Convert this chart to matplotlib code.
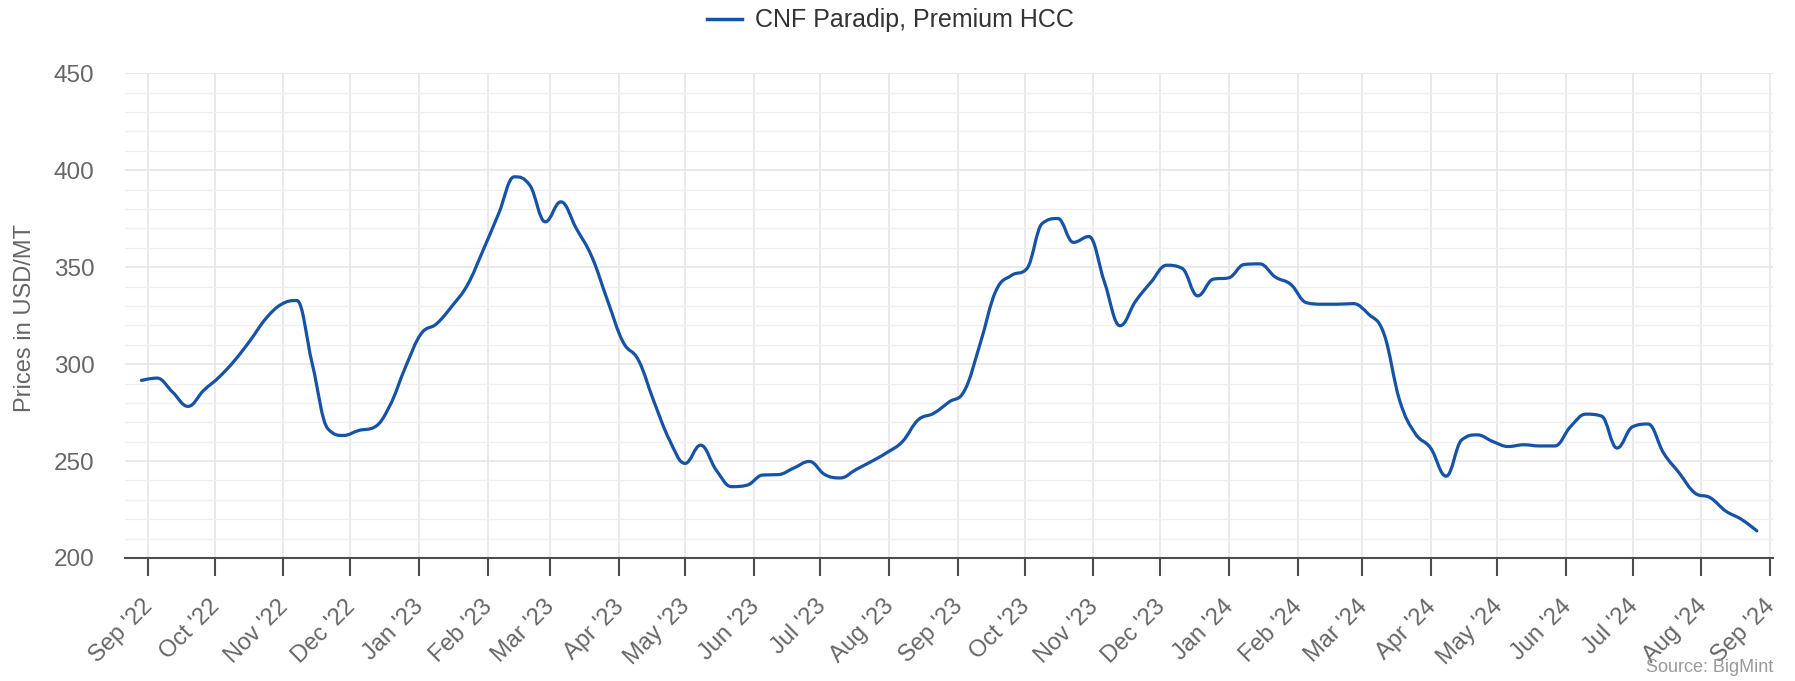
import numpy as np
import pandas as pd
import matplotlib
matplotlib.use("Agg")
import matplotlib.pyplot as plt
import matplotlib.dates as mdates
import matplotlib.transforms as mtransforms
from matplotlib.path import Path
from matplotlib.patches import PathPatch
from matplotlib.lines import Line2D
from matplotlib.ticker import MultipleLocator

plt.rcParams['font.family'] = ['Liberation Sans', 'DejaVu Sans']

# ---------------- data ----------------
series_name = "CNF Paradip, Premium HCC"
start_date = "2022-08-29"          # weekly observations (Mondays)
prices = [
    291.6, 292.8, 285.6, 278.2, 286.4, 293.3, 301.9, 312.2, 323.4, 330.8,
    332.8, 300.0, 266.7, 263.2, 265.8, 267.5, 278.7, 298.5, 315.6, 320.8,
    330.0, 341.0, 358.8, 377.7, 396.6, 392.3, 373.4, 383.7, 369.9, 355.3,
    333.0, 311.5, 302.0, 280.6, 260.8, 248.8, 258.2, 245.4, 236.8, 237.6,
    242.8, 243.0, 246.4, 249.8, 243.0, 241.3, 245.6, 249.8, 254.4, 260.1,
    271.2, 274.6, 280.5, 286.5, 310.6, 337.6, 345.7, 349.2, 372.6, 375.1,
    362.8, 365.8, 342.3, 319.8, 332.4, 342.3, 351.0, 349.4, 335.2, 343.8,
    344.5, 351.4, 351.7, 344.9, 341.1, 331.7, 330.9, 330.9, 331.2, 325.8,
    315.5, 281.4, 264.3, 256.7, 242.2, 260.9, 263.5, 260.1, 257.5, 258.4,
    257.8, 257.8, 267.7, 274.2, 273.2, 256.7, 267.7, 269.1, 254.1, 243.9,
    233.6, 231.1, 224.2, 220.0, 214.0,
]
dates = pd.date_range(start_date, periods=len(prices), freq="7D")
y_label = "Prices in USD/MT"
source_text = "Source: BigMint"
x_range = ("2022-08-21 14:00", "2024-09-02 07:00")
y_range = (200, 450)

LINE_COLOR = "#1652a5"
GRID_MAJOR = "#e6e6e6"
GRID_MINOR = "#f0f0f0"


def spline_path(xs, ys, smoothing=1.5):
    """Highcharts-style spline as cubic Bezier path."""
    xs = np.asarray(xs, float)
    ys = np.asarray(ys, float)
    n = len(xs)
    denom = smoothing + 1
    lcx, lcy = xs.copy(), ys.copy()
    rcx, rcy = xs.copy(), ys.copy()
    for i in range(1, n - 1):
        px, py = xs[i], ys[i]
        lx, ly = xs[i - 1], ys[i - 1]
        nx, ny = xs[i + 1], ys[i + 1]
        a = (smoothing * px + lx) / denom
        b = (smoothing * py + ly) / denom
        c = (smoothing * px + nx) / denom
        d = (smoothing * py + ny) / denom
        if c != a:
            corr = ((d - b) * (c - px)) / (c - a) + py - d
            b += corr
            d += corr
        if b > ly and b > py:
            b = max(ly, py); d = 2 * py - b
        elif b < ly and b < py:
            b = min(ly, py); d = 2 * py - b
        if d > ny and d > py:
            d = max(ny, py); b = 2 * py - d
        elif d < ny and d < py:
            d = min(ny, py); b = 2 * py - d
        lcx[i], lcy[i], rcx[i], rcy[i] = a, b, c, d
    verts = [(xs[0], ys[0])]
    codes = [Path.MOVETO]
    for i in range(1, n):
        verts += [(rcx[i - 1], rcy[i - 1]), (lcx[i], lcy[i]), (xs[i], ys[i])]
        codes += [Path.CURVE4] * 3
    return Path(verts, codes)


fig = plt.figure(figsize=(17.95, 6.81), dpi=100)
ax = fig.add_axes([125 / 1795, 1 - 558 / 681, 1648 / 1795, (558 - 73.3) / 681])

xnum = mdates.date2num(dates)
path = spline_path(xnum, prices)
ax.add_patch(PathPatch(path, fill=False, edgecolor=LINE_COLOR, lw=2.3,
                       capstyle='round', joinstyle='round', zorder=3))

ax.set_xlim(mdates.date2num(pd.Timestamp(x_range[0])),
            mdates.date2num(pd.Timestamp(x_range[1])))
ax.set_ylim(*y_range)

# y axis
ax.yaxis.set_major_locator(MultipleLocator(50))
ax.yaxis.set_minor_locator(MultipleLocator(10))
ax.tick_params(axis='y', which='both', length=0, pad=22, labelsize=17.5,
               labelcolor='#666666')
ax.grid(axis='y', which='major', color=GRID_MAJOR, lw=1.2, zorder=0)
ax.grid(axis='y', which='minor', color=GRID_MINOR, lw=1.0, zorder=0)

# x axis
ax.xaxis.set_major_locator(mdates.MonthLocator())
ax.xaxis.set_major_formatter(mdates.DateFormatter("%b '%y"))
ax.tick_params(axis='x', which='major', length=13, width=1.5, color='#4d4d4d',
               labelsize=17, labelcolor='#666666', pad=14)
ax.grid(axis='x', which='major', color=GRID_MAJOR, lw=1.2, zorder=0)
offset = mtransforms.ScaledTranslation(-6 / 100, 0, fig.dpi_scale_trans)
for lbl in ax.get_xticklabels():
    lbl.set_rotation(45)
    lbl.set_ha('right')
    lbl.set_va('top')
    lbl.set_rotation_mode('anchor')
    lbl.set_transform(lbl.get_transform() + offset)

for s in ['top', 'right', 'left']:
    ax.spines[s].set_visible(False)
ax.spines['bottom'].set_color('#4d4d4d')
ax.spines['bottom'].set_linewidth(1.5)
ax.set_axisbelow(True)

fig.text(25 / 1795, 1 - 318 / 681, y_label, rotation=90, ha='center',
         va='center', fontsize=17, color='#666666')

handle = Line2D([], [], color=LINE_COLOR, lw=2.5)
fig.legend([handle], [series_name], loc='center', bbox_to_anchor=(0.496, 0.97),
           frameon=False, fontsize=18, handlelength=1.4, handletextpad=0.5,
           labelcolor='#333333')

fig.text(1773 / 1795, 1 - 668 / 681, source_text, ha='right', va='center',
         fontsize=13, color='#999999')

fig.savefig("out.png", dpi=100)
